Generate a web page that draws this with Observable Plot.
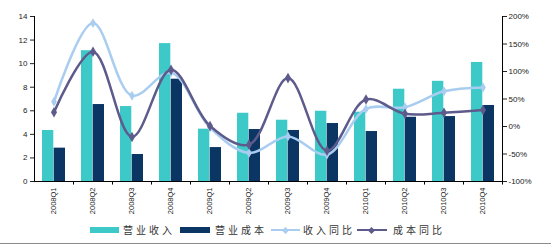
<!DOCTYPE html>
<html><head><meta charset="utf-8">
<script src="https://cdn.jsdelivr.net/npm/d3@7"></script>
<script src="https://cdn.jsdelivr.net/npm/@observablehq/plot@0.6"></script>
<style>
body{margin:0;background:#fff;font-family:"Liberation Sans",Arial,sans-serif;}
#wrap{position:relative;width:551px;height:246px;overflow:hidden;}
#legend{position:absolute;left:0;top:222px;width:551px;height:16px;font-family:"Noto Sans CJK SC",sans-serif;font-size:10px;color:#333;}
.it{position:absolute;top:0;height:16px;line-height:16px;white-space:nowrap;letter-spacing:3px;}
.sw{position:absolute;top:5px;height:6px;}
.ln{position:absolute;top:7px;height:2px;}
.mk{position:absolute;width:5px;height:5px;transform:rotate(45deg);}
#bot{position:absolute;left:0;top:243px;width:551px;height:1px;background:#8a8a8a;}
</style></head>
<body><div id="wrap"><div id="chart"></div>
<div id="legend">
 <div class="sw" style="left:90px;width:29px;background:#3ec9c9"></div><div class="it" style="left:123px">营业收入</div>
 <div class="sw" style="left:180px;width:30px;background:#0b3664"></div><div class="it" style="left:215px">营业成本</div>
 <div class="ln" style="left:271px;width:29px;background:#a9cdf0"></div><div class="mk" style="left:283px;top:5.5px;background:#a9cdf0"></div><div class="it" style="left:303px">收入同比</div>
 <div class="ln" style="left:357px;width:30px;background:#5d5a8c"></div><div class="mk" style="left:369px;top:5.5px;background:#5d5a8c"></div><div class="it" style="left:393px">成本同比</div>
</div>
<div id="bot"></div></div>
<script>
const quarters = ["2008Q1","2008Q2","2008Q3","2008Q4","2009Q1","2009Q2","2009Q3","2009Q4","2010Q1","2010Q2","2010Q3","2010Q4"];
const revenue = [4.33,11.1,6.36,11.7,4.44,5.79,5.2,5.96,5.88,7.83,8.5,10.1];
const cost = [2.83,6.53,2.29,8.68,2.88,4.41,4.33,4.92,4.24,5.45,5.51,6.45];
const revenueYoY = [45,188,56,98,-2,-48,-18,-51,32,35,64,71];
const costYoY = [26,136,-19,103,1,-33,88,-44,49,23,25,30];
const leftTicks = [0,2,4,6,8,10,12,14];
const rightTicks = [-100,-50,0,50,100,150,200];

const conv = p => (p + 100) / 300 * 14;
const rows = quarters.map((q,i)=>({q, rev:revenue[i], cost:cost[i], ry:revenueYoY[i], cy:costYoY[i]}));
const half = 19.5;

const chart = Plot.plot({
  width: 551, height: 216,
  marginLeft: 34, marginRight: 49, marginTop: 16, marginBottom: 35,
  style: {fontFamily: "Liberation Sans, Arial, sans-serif", fontSize: "8px", color: "#222"},
  x: {type: "band", domain: quarters, paddingInner: 0.4, paddingOuter: 0.2, align: 0.5},
  y: {domain: [0, 14]},
  marks: [
    Plot.barY(rows, {x: "q", y: "rev", fill: "#3ec9c9", insetRight: 11.7, insetLeft: 0}),
    Plot.barY(rows, {x: "q", y: "cost", fill: "#0b3664", insetLeft: 11.7, insetRight: 0}),
    Plot.line(rows, {x: "q", y: d => conv(d.ry), stroke: "#a9cdf0", strokeWidth: 2.5, curve: "catmull-rom"}),
    Plot.dot(rows, {x: "q", y: d => conv(d.ry), symbol: "diamond", fill: "#a9cdf0", r: 3}),
    Plot.line(rows, {x: "q", y: d => conv(d.cy), stroke: "#5d5a8c", strokeWidth: 2.5, curve: "catmull-rom"}),
    Plot.dot(rows, {x: "q", y: d => conv(d.cy), symbol: "diamond", fill: "#5d5a8c", r: 3.2}),
    Plot.ruleY([0], {stroke: "#000"}),
    Plot.ruleX([quarters[0]], {dx: -half, y1: 0, y2: 14, stroke: "#000"}),
    Plot.ruleX([quarters[quarters.length-1]], {dx: half, y1: 0, y2: 14, stroke: "#000"}),
    Plot.ruleX(quarters, {dx: half, y1: 0, y2: -0.3, stroke: "#000"}),
    Plot.axisY(leftTicks, {anchor: "left", tickSize: 4, tickPadding: 3, label: null, fontSize: 8}),
    Plot.axisY(rightTicks.map(conv), {anchor: "right", tickSize: 4, tickPadding: 2, label: null, fontSize: 8,
      tickFormat: (d, i) => rightTicks[i] + "%"}),
    Plot.axisX({tickRotate: -90, tickSize: 0, tickPadding: 6, label: null, fontSize: 7.5})
  ]
});
document.getElementById("chart").appendChild(chart);
</script></body></html>
